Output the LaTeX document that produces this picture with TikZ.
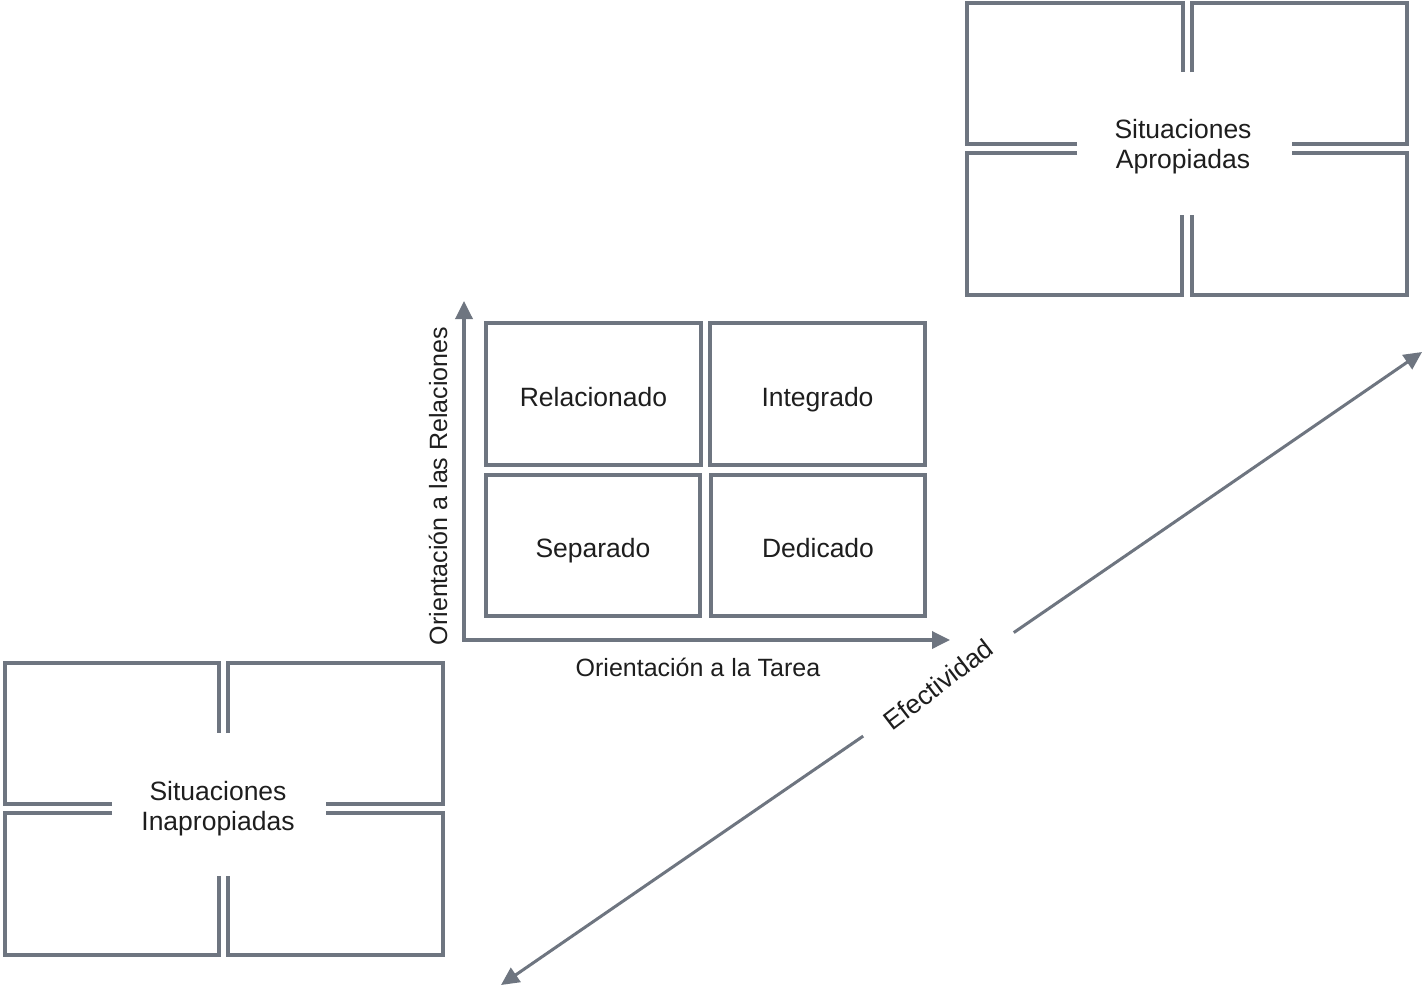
\documentclass[tikz,border=0pt]{standalone}
\usepackage{fontspec}
\setmainfont{Liberation Sans}
\usetikzlibrary{arrows.meta}
\definecolor{linegray}{RGB}{110,117,128}
\definecolor{txtcol}{RGB}{30,30,30}
\newcommand\lblfont{\fontsize{25}{30}\selectfont}
\newcommand\cellfont{\fontsize{26.5}{30}\selectfont}
\begin{document}
\begin{tikzpicture}[x=1pt,y=-1pt,
  cell/.style={draw=linegray,line width=3.5pt,minimum width=215pt,minimum height=142pt,inner sep=0pt,font=\cellfont,text=txtcol,text height=28pt,text depth=4pt},
  wall/.style={draw=linegray,line width=3.5pt},
  axis/.style={draw=linegray,line width=3.5pt,{Triangle[length=18pt,width=17pt]}-{Triangle[length=18pt,width=17pt]}},
  diag/.style={draw=linegray,line width=3pt,{Triangle[length=18pt,width=17pt]}-{Triangle[length=18pt,width=17pt]}},
  lbl/.style={font=\lblfont,text=txtcol,align=center},
  grplbl/.style={font=\cellfont,text=txtcol,align=center}]
\useasboundingbox[fill=white] (0,0) rectangle (1424,989);

% Top-right group
\draw[wall] (1077,144) -- (967,144) -- (967,3) -- (1183,3) -- (1183,72);
\draw[wall] (1192,72) -- (1192,3) -- (1407,3) -- (1407,144) -- (1292,144);
\draw[wall] (1077,153) -- (967,153) -- (967,295) -- (1182,295) -- (1182,215);
\draw[wall] (1192,215) -- (1192,295) -- (1407,295) -- (1407,153) -- (1292,153);
\node[grplbl] (apro) at (1183,147) {Situaciones\\Apropiadas};

% Bottom-left group
\draw[wall] (112,804) -- (5,804) -- (5,663) -- (219,663) -- (219,733);
\draw[wall] (228,733) -- (228,663) -- (443,663) -- (443,804) -- (326,804);
\draw[wall] (112,813) -- (5,813) -- (5,955) -- (219,955) -- (219,876);
\draw[wall] (228,876) -- (228,955) -- (443,955) -- (443,813) -- (326,813);
\node[grplbl] (inap) at (218,809) {Situaciones\\Inapropiadas};

% Middle grid
\node[cell] (rel) at (593.5,394) {Relacionado};
\node[cell] (int) at (817.5,394) {Integrado};
\node[cell,minimum width=214pt,minimum height=141pt] (sep) at (593,545.5) {Separado};
\node[cell,minimum width=214pt,minimum height=141pt] (ded) at (818,545.5) {Dedicado};

% Axes
\coordinate (O) at (464,640);
\coordinate (ytip) at (464,301);
\coordinate (xtip) at (950,640);
\draw[axis] (ytip) -- (O) -- (xtip);
\node[lbl,rotate=90] (ylab) at (438,486) {Orientación a las Relaciones};
\node[lbl] (xlab) at (698,667) {Orientación a la Tarea};

% Diagonal
\coordinate (dA) at (501,985);
\coordinate (dB) at (1422,352);
\draw[diag] (dA) -- node[pos=0.475,sloped,fill=white,inner xsep=26pt,inner ysep=2pt,grplbl] (efe) {\rotatebox{3}{Efectividad}} (dB);
\end{tikzpicture}
\end{document}
